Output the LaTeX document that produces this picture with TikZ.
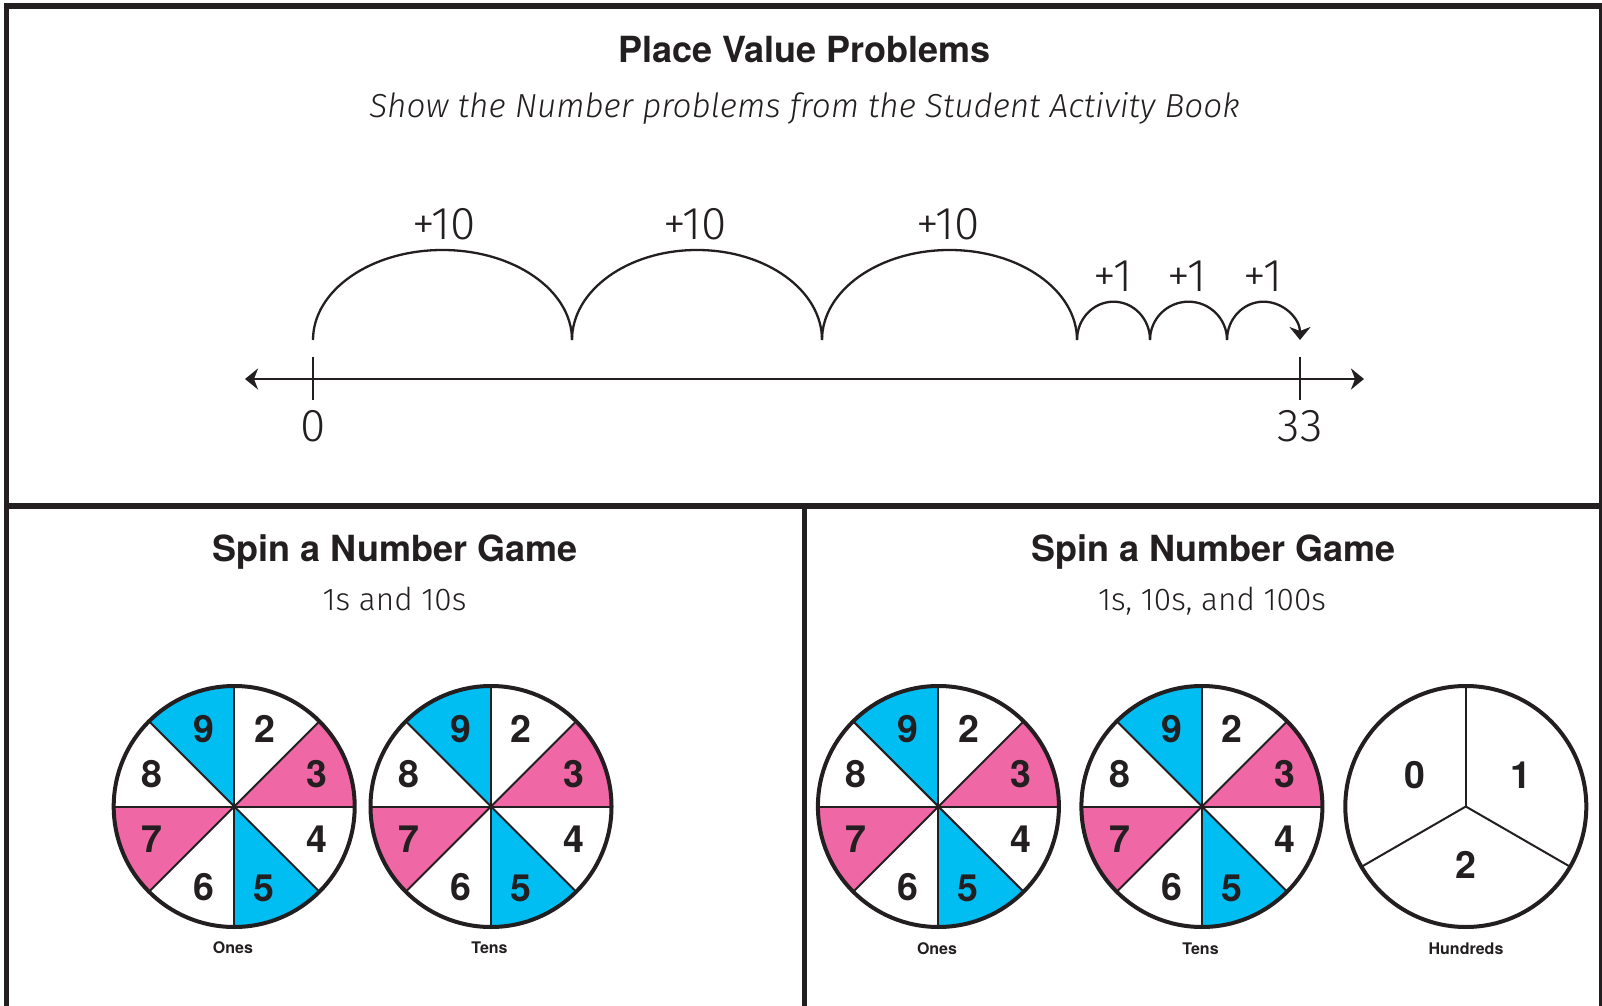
\documentclass[tikz,border=0pt]{standalone}
\usepackage{fontspec}
\setmainfont{TeX Gyre Heros}
\newfontfamily\hand{Fira Sans Light}[ItalicFont={Fira Sans Light Italic}]
\usetikzlibrary{arrows.meta}
\definecolor{ink}{HTML}{231F20}
\definecolor{cyanS}{HTML}{00BDF2}
\definecolor{pinkS}{HTML}{F067A6}
\tikzset{
  frameline/.style={line width=5.5pt, draw=ink},
  jumparc/.style={line width=2.3pt, draw=ink},
  numline/.style={line width=2.6pt, draw=ink},
  headtitle/.style={anchor=base, inner sep=0pt, text=ink, font=\fontsize{36}{40}\selectfont\bfseries},
  handsub/.style={anchor=base, inner sep=0pt, text=ink, font=\hand\itshape\fontsize{33.3}{36}\selectfont},
  handlabel/.style={anchor=base, inner sep=0pt, text=ink, font=\hand\fontsize{31.5}{36}\selectfont},
  handnum/.style={anchor=base, inner sep=0pt, text=ink, font=\hand\fontsize{46}{50}\selectfont},
  digit/.style={inner sep=0pt, text=ink, font=\fontsize{37.5}{40}\selectfont\bfseries},
  spinname/.style={anchor=base, inner sep=0pt, text=ink, font=\fontsize{16}{18}\selectfont\bfseries},
  ringline/.style={line width=4pt, draw=ink},
  divline/.style={line width=2pt, draw=ink},
  tip/.style={-{Stealth[length=13pt,width=21pt,inset=4pt]}}
}
\newcommand\eightspin[1]{%
  \fill[cyanS] (#1) -- ++(90:120.5) arc[start angle=90,end angle=135,radius=120.5] -- cycle;
  \fill[cyanS] (#1) -- ++(-90:120.5) arc[start angle=-90,end angle=-45,radius=120.5] -- cycle;
  \fill[pinkS] (#1) -- ++(0:120.5) arc[start angle=0,end angle=45,radius=120.5] -- cycle;
  \fill[pinkS] (#1) -- ++(180:120.5) arc[start angle=180,end angle=225,radius=120.5] -- cycle;
  \foreach \a in {0,45,...,315} \draw[divline] (#1) -- ++(\a:120.5);
  \draw[ringline] (#1) circle[radius=120.5];
  \node[digit] (#1n9) at ([shift={(-30.3,77.3)}]#1) {9};
  \node[digit] (#1n2) at ([shift={(30.3,77.3)}]#1) {2};
  \node[digit] (#1n8) at ([shift={(-82.3,32.3)}]#1) {8};
  \node[digit] (#1n3) at ([shift={(82.8,32.3)}]#1) {3};
  \node[digit] (#1n7) at ([shift={(-82.3,-33.2)}]#1) {7};
  \node[digit] (#1n4) at ([shift={(83,-33.2)}]#1) {4};
  \node[digit] (#1n6) at ([shift={(-30,-81)}]#1) {6};
  \node[digit] (#1n5) at ([shift={(30,-81.5)}]#1) {5};
}
\begin{document}
\begin{tikzpicture}[x=1pt,y=1pt]
\useasboundingbox (0,0) rectangle (1602,1005);
\fill[white] (0,0) rectangle (1602,1005);

% frame
\draw[frameline] (6.3,-10) -- (6.3,999) -- (1601.5,999) -- (1601.5,-10);
\draw[frameline] (4,499) -- (1602,499);
\draw[frameline] (804.5,499) -- (804.5,-10);

% top panel
\node[headtitle] (title) at (804.5,942) {Place Value Problems};
\node[handsub] (subtitle) at (804.5,887.5) {Show the Number problems from the Student Activity Book};

\coordinate (nlL) at (245,626);
\coordinate (nlR) at (1364,626);
\draw[numline, {Stealth[length=13pt,width=21pt,inset=4pt]}-{Stealth[length=13pt,width=21pt,inset=4pt]}] (nlL) -- (nlR);
\coordinate (t0a) at (313,648); \coordinate (t0b) at (313,605);
\coordinate (t33a) at (1300,648); \coordinate (t33b) at (1300,605);
\draw[numline] (t0a) -- (t0b);
\draw[numline] (t33a) -- (t33b);
\node[handnum] (lab0) at (313,563) {0};
\node[handnum] (lab33) at (1300,563) {33};

\coordinate (p0) at (313,665);
\coordinate (p1) at (572,665);
\coordinate (p2) at (822,665);
\coordinate (p3) at (1077,665);
\coordinate (p4) at (1150,665);
\coordinate (p5) at (1227,665);
\coordinate (p6) at (1300,665);
\draw[jumparc] (p0) arc[start angle=180,end angle=0,x radius=129.5,y radius=90];
\draw[jumparc] (p1) arc[start angle=180,end angle=0,x radius=125,y radius=90];
\draw[jumparc] (p2) arc[start angle=180,end angle=0,x radius=127.5,y radius=90];
\draw[jumparc] (p3) arc[start angle=180,end angle=0,x radius=36.5,y radius=38.3];
\draw[jumparc] (p4) arc[start angle=180,end angle=0,x radius=38.5,y radius=38.3];
\draw[jumparc, tip] (p5) arc[start angle=180,end angle=0,x radius=36.5,y radius=38.3];

\node[handnum] (j1) at (444,765) {+10};
\node[handnum] (j2) at (695,765) {+10};
\node[handnum] (j3) at (948,765) {+10};
\node[handnum] (j4) at (1113,713.3) {+1};
\node[handnum] (j5) at (1187,713.3) {+1};
\node[handnum] (j6) at (1263,713.3) {+1};

% lower left panel
\node[headtitle] (spinL) at (395,443.3) {Spin a Number Game};
\node[handlabel] (subL) at (394.5,394.5) {1s and 10s};
\coordinate (sA) at (234.2,198.5);
\coordinate (sB) at (491,198.5);
\eightspin{sA}
\eightspin{sB}
\node[spinname] (nameA) at (233,52) {Ones};
\node[spinname] (nameB) at (489.5,52) {Tens};

% lower right panel
\node[headtitle] (spinR) at (1213.5,443.3) {Spin a Number Game};
\node[handlabel] (subR) at (1212,394.5) {1s, 10s, and 100s};
\coordinate (sC) at (938.4,198.5);
\coordinate (sD) at (1201.9,198.5);
\coordinate (sE) at (1465.8,198.5);
\eightspin{sC}
\eightspin{sD}
\foreach \a in {90,210,330} \draw[divline] (sE) -- ++(\a:120.5);
\draw[ringline] (sE) circle[radius=120.5];
\node[digit] (sEn0) at ([shift={(-50.8,31.7)}]sE) {0};
\node[digit] (sEn1) at ([shift={(55,31.7)}]sE) {1};
\node[digit] (sEn2) at ([shift={(0,-58.3)}]sE) {2};
\node[spinname] (nameC) at (937,51) {Ones};
\node[spinname] (nameD) at (1200.5,51) {Tens};
\node[spinname] (nameE) at (1466,51) {Hundreds};
\end{tikzpicture}
\end{document}
